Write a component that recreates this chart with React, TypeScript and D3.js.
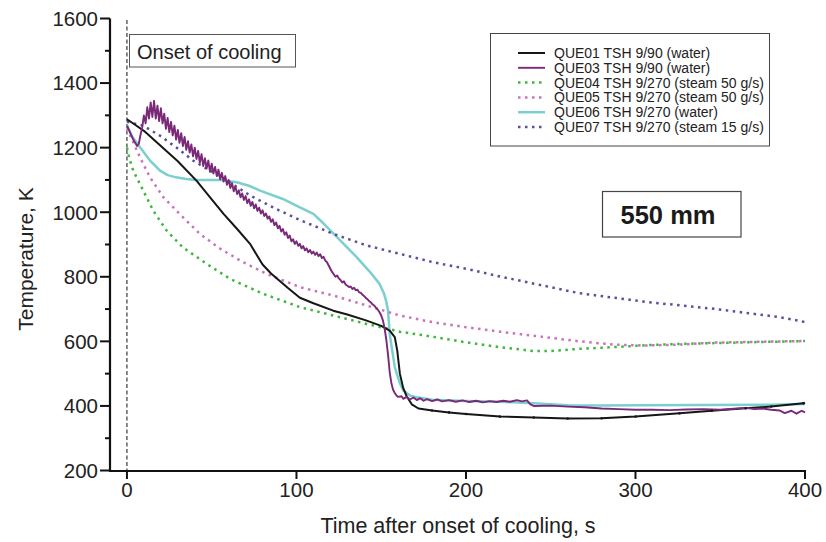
import React from "react";
import * as d3 from "d3";

type P = [number, number];

const xTicks = [0, 100, 200, 300, 400];
const yTicks = [200, 400, 600, 800, 1000, 1200, 1400, 1600];
const yMinorTicks = [300, 500, 700, 900, 1100, 1300, 1500];

const que01: P[] = [
  [0, 1288], [5, 1270], [10, 1252], [20, 1205], [30, 1158], [41, 1098], [50, 1040], [57, 995],
  [65, 948], [72.6, 902], [80, 838], [85, 810], [90, 788], [95, 765], [102, 735], [110, 718],
  [121.7, 695], [130, 683], [141, 665], [150, 648], [155, 633], [158, 613], [159.5, 570], [161, 500],
  [163, 455], [165, 430], [168, 405], [172, 392], [180, 386], [190, 380], [200, 375], [220, 367],
  [240, 364], [260, 361], [280, 362], [300, 367], [326, 377], [345, 385], [365, 393], [380, 398],
  [399, 408], [400, 410],
];

const que03: P[] = [
  [0, 1268], [2, 1245], [4, 1222], [6, 1205], [7, 1212], [8, 1240], [9, 1262], [10, 1300], [11, 1275],
  [12, 1325], [13, 1290], [14, 1340], [15, 1295], [16, 1345], [17, 1290], [18, 1330], [19, 1282],
  [20, 1322], [21, 1275], [22, 1305], [23, 1258], [24, 1292], [25, 1248], [26, 1280], [27, 1238],
  [28, 1268], [29, 1225], [30, 1255], [31, 1215], [32, 1245], [33, 1205], [34, 1233], [35, 1193],
  [36, 1220], [37, 1185], [38, 1210], [39, 1173], [40, 1200], [41, 1165], [42, 1190], [43, 1153],
  [44, 1180], [45, 1143], [46, 1167], [47, 1135], [48, 1160], [49, 1125], [50, 1150], [51, 1120],
  [52, 1140], [53, 1112], [54, 1132], [55, 1102], [56, 1122], [57, 1095], [58, 1112], [59, 1085],
  [60, 1100], [61, 1075], [62, 1090], [63, 1065], [64, 1080], [65, 1056], [66, 1068], [67, 1046],
  [68, 1058], [69, 1038], [70, 1050], [71, 1028], [72, 1040], [73, 1020], [74, 1032], [75, 1012],
  [76, 1024], [77, 1004], [78, 1014], [79, 996], [80, 1006], [81, 988], [82, 996], [83, 980],
  [84, 987], [85, 970], [86, 978], [87, 960], [88, 968], [89, 950], [90, 958], [91, 940], [92, 948],
  [93, 930], [94, 938], [95, 920], [96, 928], [97, 910], [98, 916], [99, 902], [100, 910], [101, 896],
  [102, 902], [103, 888], [104, 895], [105, 882], [106, 888], [107, 876], [108, 883], [109, 872],
  [110, 878], [111, 868], [112, 875], [113, 864], [114, 870], [115, 858], [116, 862], [117, 850],
  [118, 845], [119, 835], [120, 825], [121, 815], [122, 808], [123, 800], [124, 804], [125, 795],
  [126, 790], [127, 782], [128, 786], [129, 776], [130, 772], [131, 768], [132, 770], [133, 762],
  [134, 766], [135, 758], [136, 760], [137, 752], [138, 750], [139, 744], [140, 740], [141, 734],
  [142, 730], [143, 724], [144, 720], [145, 714], [146, 710], [147, 704], [148, 698], [149, 690],
  [150, 680], [151, 665], [152, 640], [153, 605], [154, 560], [155, 505], [156, 470], [157, 450],
  [158, 440], [159, 432], [160, 428], [162, 430], [163, 422], [165, 428], [167, 420], [169, 426],
  [171, 418], [173, 424], [175, 416], [177, 421], [180, 415], [183, 420], [186, 414], [190, 418],
  [194, 413], [198, 417], [202, 412], [206, 416], [210, 411], [214, 415], [218, 412], [222, 416],
  [226, 413], [230, 418], [233, 414], [236, 417], [238, 405], [240, 400], [250, 401], [260, 398],
  [270, 396], [280, 392], [290, 390], [300, 388], [310, 388], [320, 387], [330, 389], [340, 390],
  [350, 388], [360, 392], [365, 394], [370, 390], [375, 392], [380, 388], [385, 386], [388, 378],
  [392, 385], [395, 376], [398, 385], [400, 380],
];

const que04: P[] = [
  [0, 1200], [1.5, 1165], [3.7, 1129], [9.6, 1067], [15.5, 1005], [23.4, 943], [33, 891], [47, 840],
  [61, 793], [80, 748], [102, 706], [121.7, 680], [141.4, 654], [161, 630], [180.7, 614], [200, 597],
  [220, 582], [240, 570], [250, 570], [267, 577], [287, 582], [306, 588], [326, 592], [365, 597],
  [400, 601],
];

const que05: P[] = [
  [0, 1260], [2.8, 1227], [7.7, 1170], [13.6, 1108], [21.4, 1047], [31, 995], [43, 933], [55, 887],
  [68.6, 845], [82.4, 809], [102, 768], [121.7, 742], [141.4, 711], [161, 680], [180.7, 659],
  [200, 644], [220, 630], [245, 614], [267, 600], [287, 590], [306, 587], [326, 590], [346, 596],
  [375, 599], [400, 601],
];

const que06: P[] = [
  [0, 1270], [3, 1235], [7.7, 1201], [13.6, 1160], [19.5, 1129], [24, 1115], [29, 1108], [35, 1103],
  [41, 1100], [55, 1100], [64.7, 1093], [72, 1082], [78.5, 1067], [92, 1041], [102, 1015], [110, 995],
  [116, 965], [122, 933], [135.5, 861], [145, 805], [149, 778], [151.5, 750], [152.8, 727], [154, 696],
  [155, 623], [158, 520], [161, 470], [163, 448], [167, 432], [171, 427], [180, 419], [200, 415],
  [220, 413], [240, 408], [260, 402], [280, 401], [300, 402], [340, 403], [380, 404], [400, 406],
];

const que07: P[] = [
  [0, 1280], [9.6, 1268], [19.5, 1237], [29, 1201], [39, 1160], [49, 1129], [59, 1098], [72.6, 1052],
  [88, 1010], [102, 976], [121.7, 933], [141.4, 897], [161, 871], [180.7, 845], [200, 825], [220, 801],
  [267, 749], [306.6, 722], [346, 701], [385, 675], [400, 660],
];

const seriesNames = [
  "QUE01 TSH 9/90 (water)",
  "QUE03 TSH 9/90 (water)",
  "QUE04 TSH 9/270 (steam 50 g/s)",
  "QUE05 TSH 9/270 (steam 50 g/s)",
  "QUE06 TSH 9/270 (water)",
  "QUE07 TSH 9/270 (steam 15 g/s)",
];

const seriesStyles = [
  { color: "#161616", width: 2, dash: "" },
  { color: "#7a2878", width: 1.9, dash: "" },
  { color: "#3cb83c", width: 2.5, dash: "2.5 4.5" },
  { color: "#c874b8", width: 2.5, dash: "2.5 4.5" },
  { color: "#7ccfcf", width: 2.5, dash: "" },
  { color: "#5a4f9e", width: 2.5, dash: "2.5 4.5" },
];

const seriesData = [que01, que03, que04, que05, que06, que07];

const FONT = "'Liberation Sans', Arial, sans-serif";

export default function App() {
  const W = 826;
  const H = 542;
  const x = d3.scaleLinear().domain([-10, 400]).range([110, 805]);
  const y = d3.scaleLinear().domain([200, 1600]).range([470.5, 18.5]);
  const line = d3
    .line<P>()
    .x((d) => x(d[0]))
    .y((d) => y(d[1]));

  const plotOrder = [4, 2, 3, 5, 0, 1];
  const legendX = 518;
  const legendY0 = 53;
  const legendDy = 14.8;

  return (
    <svg width={W} height={H} style={{ position: "absolute", left: 0, top: 0, background: "#fff" }}>
      <rect x={0} y={0} width={W} height={H} fill="#fff" />
      {/* onset line */}
      <line x1={x(0)} x2={x(0)} y1={20} y2={470} stroke="#111" strokeWidth={1} strokeDasharray="4 2.5" />

      {/* series */}
      {plotOrder.map((i) => (
        <path
          key={i}
          d={line(seriesData[i]) || ""}
          fill="none"
          stroke={seriesStyles[i].color}
          strokeWidth={seriesStyles[i].width}
          strokeDasharray={seriesStyles[i].dash || undefined}
          strokeLinejoin="round"
        />
      ))}
      {que01
        .filter((d) => d[0] >= 180 && d[0] < 400)
        .map((d, k) => (
          <circle key={k} cx={x(d[0])} cy={y(d[1])} r={1.3} fill="#161616" />
        ))}

      {/* axes */}
      <line x1={110} x2={110} y1={y(1600)} y2={471.5} stroke="#111" strokeWidth={2.2} />
      <line x1={109} x2={x(400) + 1} y1={471} y2={471} stroke="#111" strokeWidth={2.2} />
      {yTicks.map((t) => (
        <g key={"y" + t}>
          <line x1={100} x2={110} y1={y(t)} y2={y(t)} stroke="#111" strokeWidth={2} />
          <text x={98} y={y(t)} dy="0.36em" textAnchor="end" fontFamily={FONT} fontSize={20.5} fill="#222">
            {t}
          </text>
        </g>
      ))}
      {yMinorTicks.map((t) => (
        <line key={"ym" + t} x1={105} x2={110} y1={y(t)} y2={y(t)} stroke="#111" strokeWidth={2} />
      ))}
      {xTicks.map((t) => (
        <g key={"x" + t}>
          <line x1={x(t)} x2={x(t)} y1={471} y2={479} stroke="#111" strokeWidth={2} />
          <text x={x(t)} y={497} textAnchor="middle" fontFamily={FONT} fontSize={20.5} fill="#222">
            {t}
          </text>
        </g>
      ))}

      {/* axis titles */}
      <text
        transform={`translate(33,259) rotate(-90)`}
        textAnchor="middle"
        fontFamily={FONT}
        fontSize={21}
        fill="#222"
      >
        Temperature, K
      </text>
      <text x={458} y={533} textAnchor="middle" fontFamily={FONT} fontSize={21.5} fill="#222">
        Time after onset of cooling, s
      </text>

      {/* onset box */}
      <rect x={129.5} y={34.5} width={166} height={32.5} fill="#fff" stroke="#555" strokeWidth={1} />
      <text x={137} y={59} fontFamily={FONT} fontSize={20} fill="#222">
        Onset of cooling
      </text>

      {/* legend */}
      <rect x={490.5} y={33.5} width={279} height={112.5} fill="#fff" stroke="#444" strokeWidth={1} />
      {seriesNames.map((name, i) => (
        <g key={"lg" + i}>
          <line
            x1={legendX}
            x2={legendX + 27}
            y1={legendY0 + i * legendDy}
            y2={legendY0 + i * legendDy}
            stroke={seriesStyles[i].color}
            strokeWidth={seriesStyles[i].width}
            strokeDasharray={seriesStyles[i].dash || undefined}
          />
          <text
            x={554}
            y={legendY0 + i * legendDy}
            dy="0.36em"
            fontFamily={FONT}
            fontSize={14}
            fill="#222"
          >
            {name}
          </text>
        </g>
      ))}

      {/* 550 mm box */}
      <rect x={602.5} y={191.5} width={138.5} height={45.5} fill="#fff" stroke="#444" strokeWidth={1.2} />
      <text x={668} y={224} textAnchor="middle" fontFamily={FONT} fontSize={25.5} fontWeight="bold" fill="#1a1a1a">
        550 mm
      </text>
    </svg>
  );
}
